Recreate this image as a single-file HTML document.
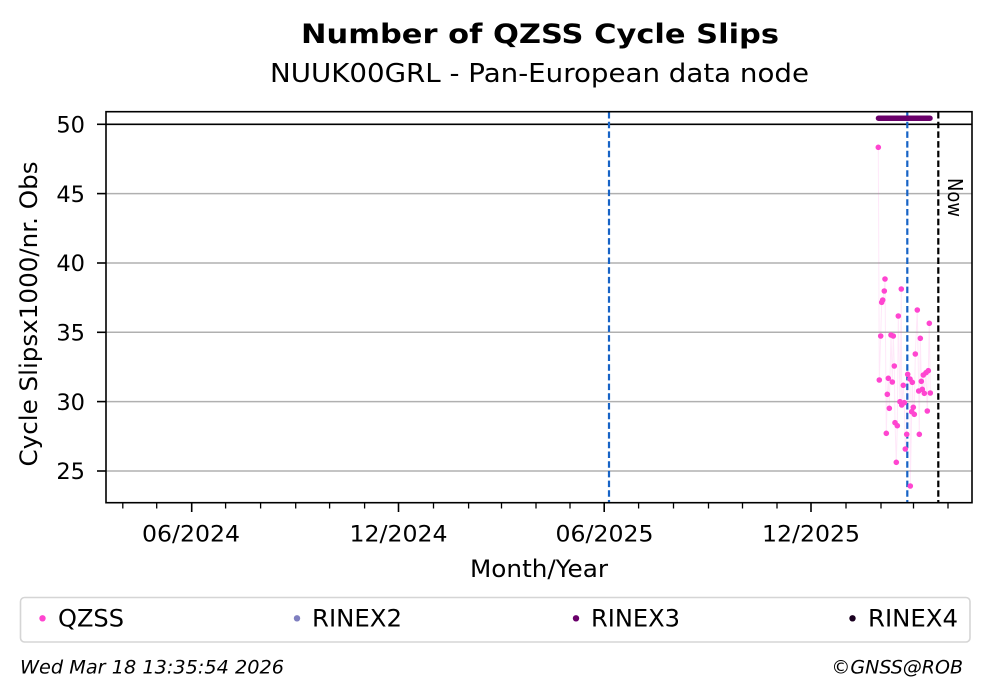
<!DOCTYPE html>
<html>
<head>
<meta charset="utf-8">
<style>
html,body{margin:0;padding:0;background:#fff;}
svg{display:block;}
text{font-family:"DejaVu Sans","Liberation Sans",sans-serif;fill:#000;}
</style>
</head>
<body>
<svg width="993" height="699" viewBox="0 0 993 699" xmlns="http://www.w3.org/2000/svg">
<rect x="0" y="0" width="993" height="699" fill="#fff"/>

<text x="540" y="43" font-size="27" font-weight="bold" text-anchor="middle" textLength="478" lengthAdjust="spacingAndGlyphs">Number of QZSS Cycle Slips</text>
<text x="539.5" y="82" font-size="26" text-anchor="middle" textLength="539" lengthAdjust="spacingAndGlyphs">NUUK00GRL - Pan-European data node</text>

<g stroke="#b0b0b0" stroke-width="1.5">
<line x1="106" y1="193.6" x2="972" y2="193.6"/>
<line x1="106" y1="263.0" x2="972" y2="263.0"/>
<line x1="106" y1="332.3" x2="972" y2="332.3"/>
<line x1="106" y1="401.6" x2="972" y2="401.6"/>
<line x1="106" y1="471.0" x2="972" y2="471.0"/>
</g>
<line x1="106" y1="124.3" x2="972" y2="124.3" stroke="#000" stroke-width="1.6"/>

<line x1="609" y1="112" x2="609" y2="503" stroke="#1763c6" stroke-width="2.2" stroke-dasharray="6.5 3.2"/>
<line x1="907.3" y1="112" x2="907.3" y2="503" stroke="#1763c6" stroke-width="2.2" stroke-dasharray="6.5 3.2"/>
<line x1="938.3" y1="112" x2="938.3" y2="503" stroke="#000" stroke-width="2.2" stroke-dasharray="6.5 3.2"/>
<text x="0" y="0" font-size="20" transform="translate(948,178) rotate(90)" textLength="39" lengthAdjust="spacingAndGlyphs">Now</text>

<polyline fill="none" stroke="#ff45d0" stroke-opacity="0.12" stroke-width="1" points="878.3,147.3 879.3,380 880.7,336 881.7,302.3 882.7,300 884.3,291 885,279 886.3,433.3 887.3,394.3 888.3,378.3 889.3,408.3 891,335 892.3,382 893.3,336 894.3,366 895,422.7 896.3,462.3 897.3,425.7 898.3,316 900,401.7 901.3,289 901.7,405 903.3,385.3 904.3,402.7 905.3,449 906.7,434.3 907.7,374.3 910,379 910.3,486 911.7,411.7 912.3,382.3 913.3,407.3 914.3,414.3 915.3,354 917.3,310 918.7,391 919.3,434.3 920.3,338.3 921.3,381.3 922.3,389.3 923.3,375 924.3,393.3 926,372.7 927.3,411 928.3,370.7 929.3,323.3 930.3,393"/>

<g fill="#ff45d0">
<circle cx="878.3" cy="147.3" r="2.8"/>
<circle cx="885" cy="279" r="2.8"/>
<circle cx="884.3" cy="291" r="2.8"/>
<circle cx="882.7" cy="300" r="2.8"/>
<circle cx="881.7" cy="302.3" r="2.8"/>
<circle cx="901.3" cy="289" r="2.8"/>
<circle cx="898.3" cy="316" r="2.8"/>
<circle cx="917.3" cy="310" r="2.8"/>
<circle cx="929.3" cy="323.3" r="2.8"/>
<circle cx="880.7" cy="336" r="2.8"/>
<circle cx="891" cy="335" r="2.8"/>
<circle cx="893.3" cy="336" r="2.8"/>
<circle cx="920.3" cy="338.3" r="2.8"/>
<circle cx="915.3" cy="354" r="2.8"/>
<circle cx="894.3" cy="366" r="2.8"/>
<circle cx="879.3" cy="380" r="2.8"/>
<circle cx="888.3" cy="378.3" r="2.8"/>
<circle cx="892.3" cy="382" r="2.8"/>
<circle cx="907.7" cy="374.3" r="2.8"/>
<circle cx="910" cy="379" r="2.8"/>
<circle cx="912.3" cy="382.3" r="2.8"/>
<circle cx="903.3" cy="385.3" r="2.8"/>
<circle cx="928.3" cy="370.7" r="2.8"/>
<circle cx="926" cy="372.7" r="2.8"/>
<circle cx="923.3" cy="375" r="2.8"/>
<circle cx="921.3" cy="381.3" r="2.8"/>
<circle cx="887.3" cy="394.3" r="2.8"/>
<circle cx="918.7" cy="391" r="2.8"/>
<circle cx="922.3" cy="389.3" r="2.8"/>
<circle cx="924.3" cy="393.3" r="2.8"/>
<circle cx="930.3" cy="393" r="2.8"/>
<circle cx="900" cy="401.7" r="2.8"/>
<circle cx="901.7" cy="405" r="2.8"/>
<circle cx="904.3" cy="402.7" r="2.8"/>
<circle cx="889.3" cy="408.3" r="2.8"/>
<circle cx="913.3" cy="407.3" r="2.8"/>
<circle cx="911.7" cy="411.7" r="2.8"/>
<circle cx="914.3" cy="414.3" r="2.8"/>
<circle cx="927.3" cy="411" r="2.8"/>
<circle cx="895" cy="422.7" r="2.8"/>
<circle cx="897.3" cy="425.7" r="2.8"/>
<circle cx="886.3" cy="433.3" r="2.8"/>
<circle cx="906.7" cy="434.3" r="2.8"/>
<circle cx="919.3" cy="434.3" r="2.8"/>
<circle cx="905.3" cy="449" r="2.8"/>
<circle cx="896.3" cy="462.3" r="2.8"/>
<circle cx="910.3" cy="486" r="2.8"/>
</g>

<line x1="878.5" y1="118.2" x2="930" y2="118.2" stroke="#6a006a" stroke-width="5.5" stroke-linecap="round"/>

<rect x="106" y="111.7" width="866" height="391" fill="none" stroke="#000" stroke-width="1.6"/>

<g stroke="#000" stroke-width="1.6">
<line x1="97" y1="124.3" x2="106" y2="124.3"/>
<line x1="97" y1="193.6" x2="106" y2="193.6"/>
<line x1="97" y1="263.0" x2="106" y2="263.0"/>
<line x1="97" y1="332.3" x2="106" y2="332.3"/>
<line x1="97" y1="401.6" x2="106" y2="401.6"/>
<line x1="97" y1="471.0" x2="106" y2="471.0"/>
</g>
<g font-size="22.5" text-anchor="end">
<text x="85" y="132.5">50</text>
<text x="85" y="201.8">45</text>
<text x="85" y="271.2">40</text>
<text x="85" y="340.5">35</text>
<text x="85" y="409.8">30</text>
<text x="85" y="479.2">25</text>
</g>
<text x="0" y="0" font-size="24" text-anchor="middle" transform="translate(37,314) rotate(-90)" textLength="305" lengthAdjust="spacingAndGlyphs">Cycle Slipsx1000/nr. Obs</text>

<g stroke="#000" stroke-width="1.6">
<line x1="191.7" y1="503" x2="191.7" y2="512"/>
<line x1="398.5" y1="503" x2="398.5" y2="512"/>
<line x1="604.2" y1="503" x2="604.2" y2="512"/>
<line x1="811" y1="503" x2="811" y2="512"/>
</g>
<g stroke="#000" stroke-width="1.3">
<line x1="122.8" y1="503" x2="122.8" y2="508.5"/>
<line x1="156.7" y1="503" x2="156.7" y2="508.5"/>
<line x1="225.6" y1="503" x2="225.6" y2="508.5"/>
<line x1="260.6" y1="503" x2="260.6" y2="508.5"/>
<line x1="295.7" y1="503" x2="295.7" y2="508.5"/>
<line x1="329.6" y1="503" x2="329.6" y2="508.5"/>
<line x1="364.6" y1="503" x2="364.6" y2="508.5"/>
<line x1="433.5" y1="503" x2="433.5" y2="508.5"/>
<line x1="468.6" y1="503" x2="468.6" y2="508.5"/>
<line x1="501.5" y1="503" x2="501.5" y2="508.5"/>
<line x1="536" y1="503" x2="536" y2="508.5"/>
<line x1="570" y1="503" x2="570" y2="508.5"/>
<line x1="638.6" y1="503" x2="638.6" y2="508.5"/>
<line x1="673.5" y1="503" x2="673.5" y2="508.5"/>
<line x1="708.5" y1="503" x2="708.5" y2="508.5"/>
<line x1="742.5" y1="503" x2="742.5" y2="508.5"/>
<line x1="777" y1="503" x2="777" y2="508.5"/>
<line x1="846" y1="503" x2="846" y2="508.5"/>
<line x1="881" y1="503" x2="881" y2="508.5"/>
<line x1="913.5" y1="503" x2="913.5" y2="508.5"/>
<line x1="948" y1="503" x2="948" y2="508.5"/>
</g>
<g font-size="22.5" text-anchor="middle">
<text x="191" y="541.5" textLength="98" lengthAdjust="spacingAndGlyphs">06/2024</text>
<text x="398.5" y="541.5" textLength="98" lengthAdjust="spacingAndGlyphs">12/2024</text>
<text x="604.5" y="541.5" textLength="98" lengthAdjust="spacingAndGlyphs">06/2025</text>
<text x="811" y="541.5" textLength="98" lengthAdjust="spacingAndGlyphs">12/2025</text>
</g>
<text x="539" y="577" font-size="24" text-anchor="middle" textLength="138" lengthAdjust="spacingAndGlyphs">Month/Year</text>

<rect x="20.5" y="597.5" width="949.5" height="44.5" rx="4" ry="4" fill="#fff" stroke="#d5d5d5" stroke-width="1.6"/>
<circle cx="42.5" cy="618.3" r="3.2" fill="#ff45d0"/>
<text x="58" y="626.5" font-size="24" textLength="66" lengthAdjust="spacingAndGlyphs">QZSS</text>
<circle cx="297" cy="618.3" r="3.2" fill="#7f7fc0"/>
<text x="312" y="626.5" font-size="24" textLength="90" lengthAdjust="spacingAndGlyphs">RINEX2</text>
<circle cx="576" cy="618.3" r="3.2" fill="#6a006a"/>
<text x="591" y="626.5" font-size="24" textLength="89" lengthAdjust="spacingAndGlyphs">RINEX3</text>
<circle cx="852.5" cy="618.3" r="3.2" fill="#1a0020"/>
<text x="868" y="626.5" font-size="24" textLength="90" lengthAdjust="spacingAndGlyphs">RINEX4</text>

<text x="20" y="673.5" font-size="19" font-style="italic" textLength="264" lengthAdjust="spacingAndGlyphs">Wed Mar 18 13:35:54 2026</text>
<text x="963" y="673.5" font-size="19" font-style="italic" text-anchor="end">©GNSS@ROB</text>
</svg>
</body>
</html>
